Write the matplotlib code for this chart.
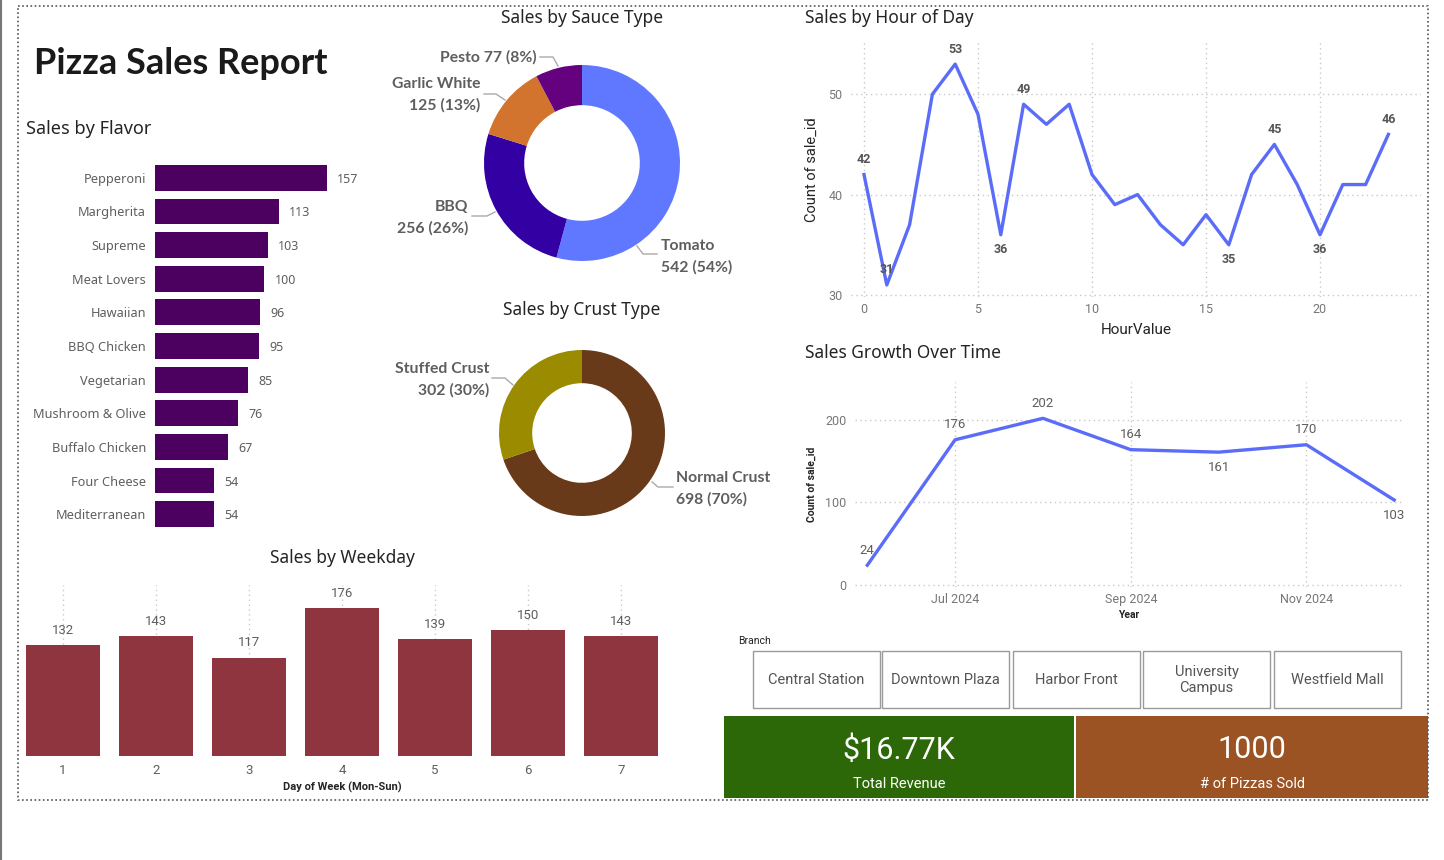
import numpy as np
import matplotlib
matplotlib.use('Agg')
import matplotlib.pyplot as plt
from matplotlib.patches import Rectangle

W, H = 1444, 860

# data
flavors = ['Pepperoni', 'Margherita', 'Supreme', 'Meat Lovers', 'Hawaiian', 'BBQ Chicken',
           'Vegetarian', 'Mushroom & Olive', 'Buffalo Chicken', 'Four Cheese', 'Mediterranean']
flavor_sales = [157, 113, 103, 100, 96, 95, 85, 76, 67, 54, 54]

sauces = ['Tomato', 'BBQ', 'Garlic White', 'Pesto']
sauce_sales = [542, 256, 125, 77]

crusts = ['Normal Crust', 'Stuffed Crust']
crust_sales = [698, 302]

hours = list(range(24))
hour_sales = [42, 31, 37, 50, 53, 48, 36, 49, 47, 49, 42, 39,
              40, 37, 35, 38, 35, 42, 45, 41, 36, 41, 41, 46]

months = ['Jun 2024', 'Jul 2024', 'Aug 2024', 'Sep 2024', 'Oct 2024', 'Nov 2024', 'Dec 2024']
month_sales = [24, 176, 202, 164, 161, 170, 103]

weekdays = [1, 2, 3, 4, 5, 6, 7]
weekday_sales = [132, 143, 117, 176, 139, 150, 143]

branches = ['Central Station', 'Downtown Plaza', 'Harbor Front', 'University\nCampus', 'Westfield Mall']
total_revenue = 16770

# colours / fonts
GRAY = '#605E5C'
DARK = '#252423'
GRID = '#C8C8C8'
TXT = ['Noto Sans', 'DejaVu Sans']
BOLD = ['Lato', 'DejaVu Sans']
NUM = ['Roboto', 'DejaVu Sans']
plt.rcParams['font.family'] = TXT

fig = plt.figure(figsize=(W / 100, H / 100), dpi=100)


def px_axes(x0, y0, x1, y1):
    ax = fig.add_axes([x0 / W, 1 - y1 / H, (x1 - x0) / W, (y1 - y0) / H])
    ax.patch.set_alpha(0)
    return ax


def clean(ax):
    for s in ax.spines.values():
        s.set_visible(False)


# ---- sales by flavor
ax = px_axes(155, 161, 352, 531)
yy = np.arange(len(flavors))
ax.barh(yy, flavor_sales, height=0.77, color='#4C005F')
ax.set_xlim(0, 180)
ax.set_ylim(len(flavors) - 0.5, -0.5)
ax.set_yticks(yy, flavors, family=TXT)
ax.set_xticks([])
ax.tick_params(axis='y', length=0, pad=6.5, labelsize=9.2, labelcolor=GRAY)
clean(ax)
for yi, v in zip(yy, flavor_sales):
    ax.annotate(str(v), (v, yi), xytext=(10, 0), textcoords='offset pixels',
                va='center_baseline', ha='left', fontsize=9, color=GRAY)

# ---- donuts
def donut(box, values, names, colors, width, labels, leaders):
    ax = px_axes(*box)
    ax.pie(values, colors=colors, startangle=90, counterclock=False,
           radius=1, wedgeprops=dict(width=width, linewidth=0))
    ax.set_xlim(-1, 1)
    ax.set_ylim(-1, 1)
    ax.set_aspect('equal')
    tot = sum(values)
    for n, v in zip(names, values):
        x, y, ha, one_line = labels[n]
        pct = int(v / tot * 100 + 0.5)
        kw = dict(ha=ha, va='center', fontsize=11.3, fontweight='bold', color=GRAY, family=BOLD)
        if one_line:
            ov.text(x, y, f'{n} {v} ({pct}%)', **kw)
        else:
            ov.text(x, y, n, **kw)
            ov.text(x, y + 21, f'{v} ({pct}%)', **kw)
        pts = leaders[n]
        ov.plot([p[0] for p in pts], [p[1] for p in pts], color='#AAAAAA', lw=1)


ov = fig.add_axes([0, 0, 1, 1], zorder=10)
ov.set_xlim(0, W)
ov.set_ylim(H, 0)
ov.axis('off')

donut((484, 65, 680, 261), sauce_sales, sauces, ['#6078FF', '#3300A3', '#D2732E', '#65007F'], 0.41,
      {'Tomato': (661, 246, 'left', False), 'BBQ': (468, 207, 'right', False),
       'Garlic White': (480, 84, 'right', False), 'Pesto': (537, 57, 'right', True)},
      {'Tomato': [(637, 246), (643, 254), (657, 254)],
       'BBQ': [(472, 216), (487, 216), (495, 212)],
       'Garlic White': [(484, 94), (496, 94), (505, 100)],
       'Pesto': [(540, 57), (553, 57), (558, 66)]})

donut((499, 350, 665, 516), crust_sales, crusts, ['#693A19', '#9A8B00'], 0.40,
      {'Normal Crust': (676, 478, 'left', False), 'Stuffed Crust': (489, 369, 'right', False)},
      {'Normal Crust': [(652, 482), (658, 487), (673, 487)],
       'Stuffed Crust': [(492, 378), (505, 378), (513, 385)]})

# ---- sales by hour
ax = px_axes(851, 42, 1421, 297)
ax.plot(hours, hour_sales, color='#5B6DF8', lw=2.4)
ax.set_xlim(-0.57, 24.43)
ax.set_ylim(29.8, 55.2)
ax.set_xticks([0, 5, 10, 15, 20])
ax.set_yticks([30, 40, 50])
ax.grid(True, ls=(0, (1, 2.5)), color=GRID, lw=1)
ax.tick_params(length=0, labelsize=9, labelcolor='#777777')
ax.tick_params(axis='y', pad=6)
ax.tick_params(axis='x', pad=4)
for t in ax.get_xticklabels() + ax.get_yticklabels():
    t.set_family(NUM)
ax.set_xlabel('HourValue', fontsize=11, color=DARK, family=NUM, labelpad=5)
ax.set_ylabel('Count of sale_id', fontsize=10.5, color=DARK, family=NUM, labelpad=7)
clean(ax)
hour_marks = {0: 1, 1: 1, 4: 1, 6: -1, 7: 1, 16: -1, 18: 1, 20: -1, 23: 1}
for i, d in hour_marks.items():
    ax.annotate(str(hour_sales[i]), (hours[i], hour_sales[i]), xytext=(0, 15 * d),
                textcoords='offset pixels', ha='center', va='center', fontsize=9,
                fontweight='bold', color='#555555', family=NUM)

# ---- growth over time
ax = px_axes(855, 382, 1403, 587)
xm = np.arange(len(months))
ax.plot(xm, month_sales, color='#5B6DF8', lw=2.4)
ax.set_xlim(-0.14, 6.1)
ax.set_ylim(-2.4, 246)
ax.set_xticks(xm[1::2], months[1::2])
ax.set_yticks([0, 100, 200])
ax.grid(True, ls=(0, (1, 2.5)), color=GRID, lw=1)
ax.tick_params(length=0, labelsize=9, labelcolor='#777777')
ax.tick_params(axis='y', pad=6)
ax.tick_params(axis='x', pad=4)
for t in ax.get_xticklabels() + ax.get_yticklabels():
    t.set_family(NUM)
ax.set_xlabel('Year', fontsize=7.5, fontweight='bold', color=DARK, family=NUM, labelpad=3)
ax.set_ylabel('Count of sale_id', fontsize=7.5, fontweight='bold', color=DARK, family=NUM, labelpad=6)
clean(ax)
growth_pos = [1, 1, 1, 1, -1, 1, -1]
for xi, v, d in zip(xm, month_sales, growth_pos):
    ax.annotate(str(v), (xi, v), xytext=(0, 15 * d), textcoords='offset pixels',
                ha='center', va='center', fontsize=9.5, color=GRAY, family=NUM)

# ---- weekday
ax = px_axes(22, 585, 662, 756)
ax.bar(weekdays, weekday_sales, width=0.8, color='#8E3540', zorder=2)
ax.set_xlim(0.56, 7.44)
ax.set_ylim(0, 204)
ax.set_xticks(weekdays)
ax.set_yticks([])
ax.grid(True, axis='x', ls=(0, (1, 2.5)), color=GRID, lw=1, zorder=0)
ax.tick_params(length=0, labelsize=9.5, labelcolor=GRAY, pad=6)
for t in ax.get_xticklabels():
    t.set_family(NUM)
ax.set_xlabel('Day of Week (Mon-Sun)', fontsize=8, fontweight='bold', color=DARK, family=NUM, labelpad=3)
clean(ax)
for xi, v in zip(weekdays, weekday_sales):
    ax.annotate(str(v), (xi, v), xytext=(0, 15), textcoords='offset pixels',
                ha='center', va='center', fontsize=9.5, color=GRAY, family=NUM)

# ---- titles
ov.text(34, 63, 'Pizza Sales Report', fontsize=26, fontweight='bold', color='#1A1A1A', va='center',
        family=BOLD)
ov.text(26, 129, 'Sales by Flavor', fontsize=13, color=DARK, va='center')
ov.text(582, 18, 'Sales by Sauce Type', fontsize=12.5, color=DARK, va='center', ha='center')
ov.text(582, 310, 'Sales by Crust Type', fontsize=12.5, color=DARK, va='center', ha='center')
ov.text(805, 18, 'Sales by Hour of Day', fontsize=12.5, color=DARK, va='center')
ov.text(805, 353, 'Sales Growth Over Time', fontsize=12.5, color=DARK, va='center')
ov.text(342, 558, 'Sales by Weekday', fontsize=12.5, color=DARK, va='center', ha='center')

# ---- branch slicer
ov.text(738, 641, 'Branch', fontsize=7.5, color=DARK, va='center', family=NUM)
bx = [753, 882, 1013, 1143, 1274]
for x0, b in zip(bx, branches):
    ov.add_patch(Rectangle((x0, 651), 127, 57, fill=False, ec='#9A9A9A', lw=1))
    ov.text(x0 + 63.5, 680, b, ha='center', va='center', fontsize=10.5, color='#555555',
            family=NUM, linespacing=1.25)

# ---- KPI cards
ov.add_patch(Rectangle((724, 716), 350, 82, color='#2C6807', lw=0))
ov.add_patch(Rectangle((1076, 716), 352, 82, color='#9C5324', lw=0))
ov.text(899, 750, f'${total_revenue / 1000:.2f}K', ha='center', va='center', fontsize=22,
        color='white', family=NUM)
ov.text(899, 784, 'Total Revenue', ha='center', va='center', fontsize=10.5, color='white', family=NUM)
ov.text(1252, 750, str(sum(flavor_sales)), ha='center', va='center', fontsize=22,
        color='white', family=NUM)
ov.text(1252, 784, '# of Pizzas Sold', ha='center', va='center', fontsize=10.5, color='white', family=NUM)

# ---- frame
ov.add_patch(Rectangle((18, 6), 1410, 794, fill=False, ec='#555555', lw=1.2, ls=(0, (1, 1.5))))
ov.plot([1, 1], [0, H], color='#777777', lw=1.5)

fig.savefig('out.png', dpi=100)
